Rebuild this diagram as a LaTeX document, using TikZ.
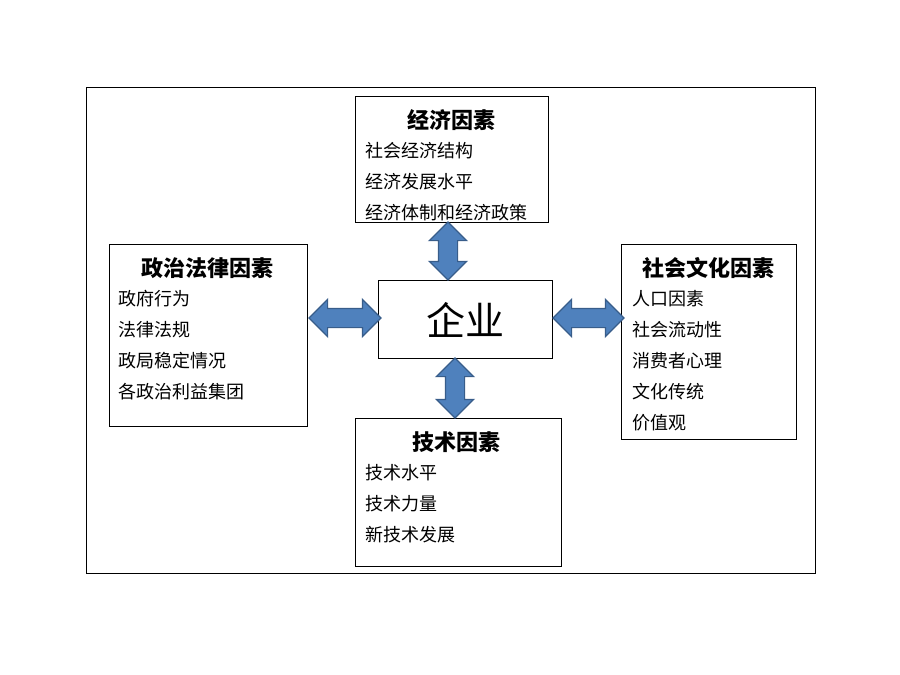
\documentclass[tikz,border=0pt]{standalone}
\usepackage{fontspec}
\setmainfont{Noto Sans CJK SC}
\usetikzlibrary{shapes.arrows}
\definecolor{arrowblue}{HTML}{4F81BD}
\definecolor{arrowline}{HTML}{385D8A}

\begin{document}
\begin{tikzpicture}
         [x=1pt,y=-1pt,every node/.style={inner sep=0pt},
          box/.style={draw,line width=1pt,anchor=north west},
          head/.style={font=\fontsize{22}{24}\selectfont\bfseries},
          item/.style={anchor=west,font=\fontsize{18}{20}\selectfont},
          dblarrow/.style={double arrow,fill=arrowblue,draw=arrowline,line width=1.2pt,inner sep=9pt,
                           minimum width=36pt,double arrow head extend=9pt,double arrow tip angle=90}]
         \useasboundingbox[fill=white] (0,0) rectangle (900,675);
         \node[box,minimum width=729pt,minimum height=486pt] (nFrame) at (86,87) {};

         \node[box,minimum width=193pt,minimum height=126pt] (nEcon) at (355,96) {};
         \node[box,minimum width=198pt,minimum height=182pt] (nPolit) at (109,244) {};
         \node[box,minimum width=175pt,minimum height=195pt] (nSocial) at (621,244) {};
         \node[box,minimum width=206pt,minimum height=148pt] (nTech) at (355,418) {};
         \node[box,minimum width=174pt,minimum height=78pt] (nFirm) at (378,280) {};
         \node[font=\fontsize{39}{42}\selectfont] (tFirm) at (nFirm.center) {企业};

         \node[head] (tEcon) at (451,120) {经济因素};
         \node[head] (tPolit) at (207,268) {政治法律因素};
         \node[head] (tSocial) at (708,268) {社会文化因素};
         \node[head] (tTech) at (456,442) {技术因素};

         \foreach \txt [count=\i] in {社会经济结构,经济发展水平,经济体制和经济政策}
             \node[item] (iEcon\i) at (365,120+31*\i) {\txt};
         \foreach \txt [count=\i] in {政府行为,法律法规,政局稳定情况,各政治利益集团}
             \node[item] (iPolit\i) at (118,268+31*\i) {\txt};
         \foreach \txt [count=\i] in {人口因素,社会流动性,消费者心理,文化传统,价值观}
             \node[item] (iSocial\i) at (632,268+31*\i) {\txt};
         \foreach \txt [count=\i] in {技术水平,技术力量,新技术发展}
             \node[item] (iTech\i) at (365,442+31*\i) {\txt};

         \node[dblarrow,minimum height=58pt,shape border rotate=90] (aEcon) at (448,251) {};
         \node[dblarrow,minimum height=60pt,shape border rotate=90] (aTech) at (455,388) {};
         \node[dblarrow,minimum height=72pt] (aPolit) at (345,318) {};
         \node[dblarrow,minimum height=71pt] (aSocial) at (588.5,318) {};

     \end{tikzpicture}
\end{document}
